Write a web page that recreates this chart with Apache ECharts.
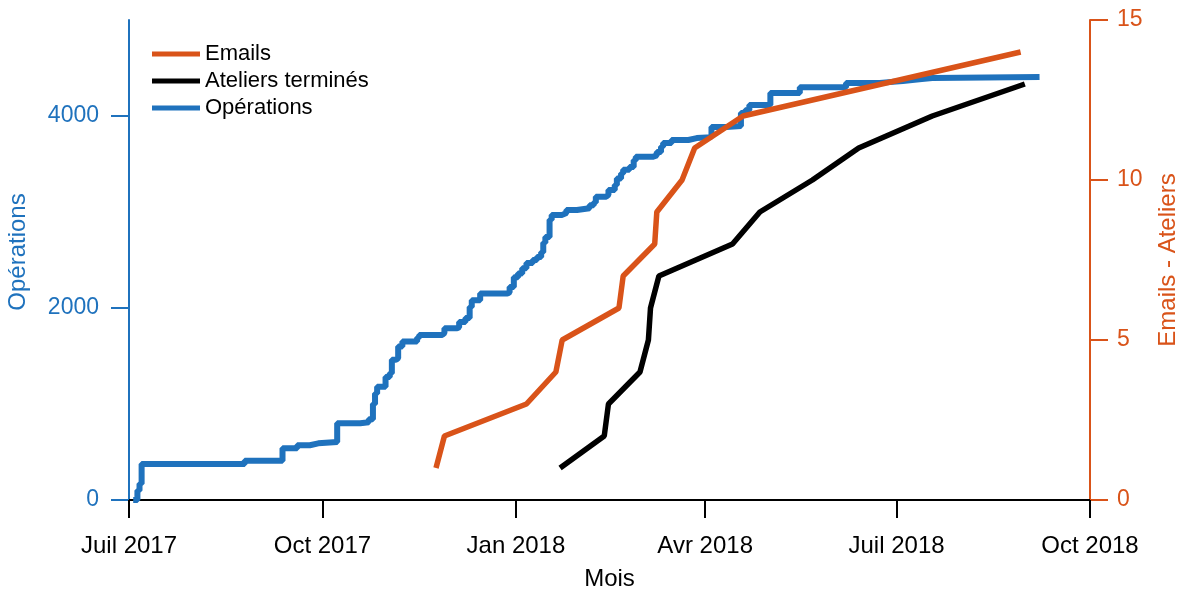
<!DOCTYPE html>
<html>
<head>
<meta charset="utf-8">
<script src="https://cdn.jsdelivr.net/npm/echarts@6/dist/echarts.min.js"></script>
<style>
html,body{margin:0;padding:0;background:#fff;}
#chart{width:1180px;height:592px;}
</style>
</head>
<body>
<div id="chart"></div>
<script>
// ---- Data ----
const tickDates = ['2017-07-01','2017-10-01','2018-01-01','2018-04-01','2018-07-01','2018-10-01'];
const tickLabels = ['Juil 2017','Oct 2017','Jan 2018','Avr 2018','Juil 2018','Oct 2018'];
const leftTicks = [0, 2000, 4000];

const opsDates = ['2017-07-03','2017-07-05','2017-07-06','2017-07-07','2017-08-25','2017-09-12','2017-09-19','2017-09-25','2017-09-29','2017-10-08','2017-10-19','2017-10-23','2017-10-25','2017-10-26','2017-10-27','2017-10-31','2017-11-02','2017-11-03','2017-11-05','2017-11-06','2017-11-08','2017-11-15','2017-11-16','2017-11-27','2017-11-28','2017-12-04','2017-12-05','2017-12-08','2017-12-10','2017-12-11','2017-12-15','2017-12-28','2017-12-29','2017-12-31','2018-01-02','2018-01-04','2018-01-06','2018-01-09','2018-01-11','2018-01-13','2018-01-14','2018-01-15','2018-01-17','2018-01-18','2018-01-23','2018-01-25','2018-01-30','2018-02-05','2018-02-07','2018-02-08','2018-02-13','2018-02-14','2018-02-17','2018-02-18','2018-02-20','2018-02-21','2018-02-24','2018-02-26','2018-02-27','2018-03-07','2018-03-09','2018-03-11','2018-03-12','2018-03-16','2018-03-24','2018-03-28','2018-04-04','2018-04-11','2018-04-18','2018-04-20','2018-04-22','2018-05-02','2018-05-16','2018-06-07','2018-06-23','2018-07-04','2018-07-13','2018-07-18','2018-09-07'];
const opsValues = [0,100,170,375,410,540,570,590,605,800,810,840,1000,1110,1180,1280,1320,1460,1480,1600,1650,1690,1720,1740,1790,1800,1855,1895,2010,2080,2150,2165,2220,2320,2360,2415,2470,2500,2530,2580,2680,2740,2920,2970,2990,3020,3040,3070,3100,3160,3180,3230,3280,3350,3400,3440,3470,3540,3575,3590,3625,3680,3720,3750,3770,3780,3885,3895,4030,4060,4115,4240,4300,4345,4365,4385,4395,4405,4410];

const emailDates = ['2017-11-24','2017-11-28','2018-01-06','2018-01-20','2018-01-23','2018-02-19','2018-02-21','2018-03-08','2018-03-09','2018-03-21','2018-03-27','2018-04-19','2018-08-29'];
const emailValues = [1,2,3,4,5,6,7,8,9,10,11,12,14];

const atelierDates = ['2018-01-22','2018-02-12','2018-02-14','2018-03-01','2018-03-05','2018-03-06','2018-03-10','2018-04-14','2018-04-27','2018-05-22','2018-06-13','2018-07-18','2018-08-31'];
const atelierValues = [1,2,3,4,5,6,7,8,9,10,11,12,13];

// ---- Helpers ----
function toTime(s){ const p = s.split('-').map(Number); return Date.UTC(p[0], p[1]-1, p[2]); }
const tickTimes = tickDates.map(toTime);
function pairs(ds, vs){ return ds.map((d,i)=>[toTime(d), vs[i]]); }

const BLUE = '#1f72bd';
const ORANGE = '#d95319';
const FONT = 'Liberation Sans, Arial, Helvetica, sans-serif';

const chart = echarts.init(document.getElementById('chart'));
chart.setOption({
  animation: false,
  backgroundColor: '#fff',
  textStyle: { fontFamily: FONT },
  grid: { left: 129, right: 90, top: 20, bottom: 92, containLabel: false, outerBoundsMode: 'none' },
  legend: {
    orient: 'vertical',
    left: 152, top: 43, padding: 0,
    icon: 'rect', itemWidth: 48, itemHeight: 5, itemGap: 5,
    textStyle: { fontSize: 22, color: '#000', fontFamily: FONT },
    data: ['Emails', 'Ateliers terminés', 'Opérations']
  },
  xAxis: {
    type: 'value',
    min: tickTimes[0], max: tickTimes[tickTimes.length-1],
    name: 'Mois', nameLocation: 'middle', nameGap: 67,
    nameTextStyle: { fontSize: 24, color: '#000', fontFamily: FONT },
    axisLine: { show: true, lineStyle: { color: '#000', width: 2 } },
    axisTick: { show: true, length: 18, lineStyle: { color: '#000', width: 2 }, customValues: tickTimes },
    axisLabel: {
      customValues: tickTimes, margin: 34, fontSize: 24, color: '#000', fontFamily: FONT,
      formatter: function(v){
        let best = 0, bd = Infinity;
        tickTimes.forEach((t,i)=>{ const d = Math.abs(t - v); if (d < bd){ bd = d; best = i; } });
        return tickLabels[best];
      }
    },
    splitLine: { show: false }
  },
  yAxis: [
    {
      type: 'value', min: 0, max: 5000, position: 'left',
      name: 'Opérations', nameLocation: 'middle', nameGap: 99, nameRotate: 90,
      nameTextStyle: { fontSize: 24, color: BLUE, fontFamily: FONT, padding: [0, 0, 0, 16] },
      axisLine: { show: true, lineStyle: { color: BLUE, width: 2 } },
      axisTick: { show: true, length: 18, lineStyle: { color: BLUE, width: 2 }, customValues: leftTicks },
      axisLabel: { customValues: leftTicks, margin: 30, fontSize: 23, color: BLUE, fontFamily: FONT,
        formatter: function(v){ return String(v); } },
      splitLine: { show: false }
    },
    {
      type: 'value', min: 0, max: 15, interval: 5, position: 'right',
      name: 'Emails - Ateliers', nameLocation: 'middle', nameGap: 66, nameRotate: 90,
      nameTextStyle: { fontSize: 24, color: ORANGE, fontFamily: FONT },
      axisLine: { show: true, lineStyle: { color: ORANGE, width: 2 } },
      axisTick: { show: true, length: 18, lineStyle: { color: ORANGE, width: 2 } },
      axisLabel: { margin: 27, fontSize: 23, color: ORANGE, fontFamily: FONT },
      splitLine: { show: false }
    }
  ],
  series: [
    {
      name: 'Opérations', type: 'line', yAxisIndex: 0, step: 'end',
      showSymbol: false, symbol: 'none',
      lineStyle: { color: BLUE, width: 6 }, itemStyle: { color: BLUE },
      data: pairs(opsDates, opsValues)
    },
    {
      name: 'Emails', type: 'line', yAxisIndex: 1,
      showSymbol: false, symbol: 'none',
      lineStyle: { color: ORANGE, width: 5.5 }, itemStyle: { color: ORANGE },
      data: pairs(emailDates, emailValues)
    },
    {
      name: 'Ateliers terminés', type: 'line', yAxisIndex: 1,
      showSymbol: false, symbol: 'none',
      lineStyle: { color: '#000', width: 5.5 }, itemStyle: { color: '#000' },
      data: pairs(atelierDates, atelierValues)
    }
  ]
});
</script>
</body>
</html>
